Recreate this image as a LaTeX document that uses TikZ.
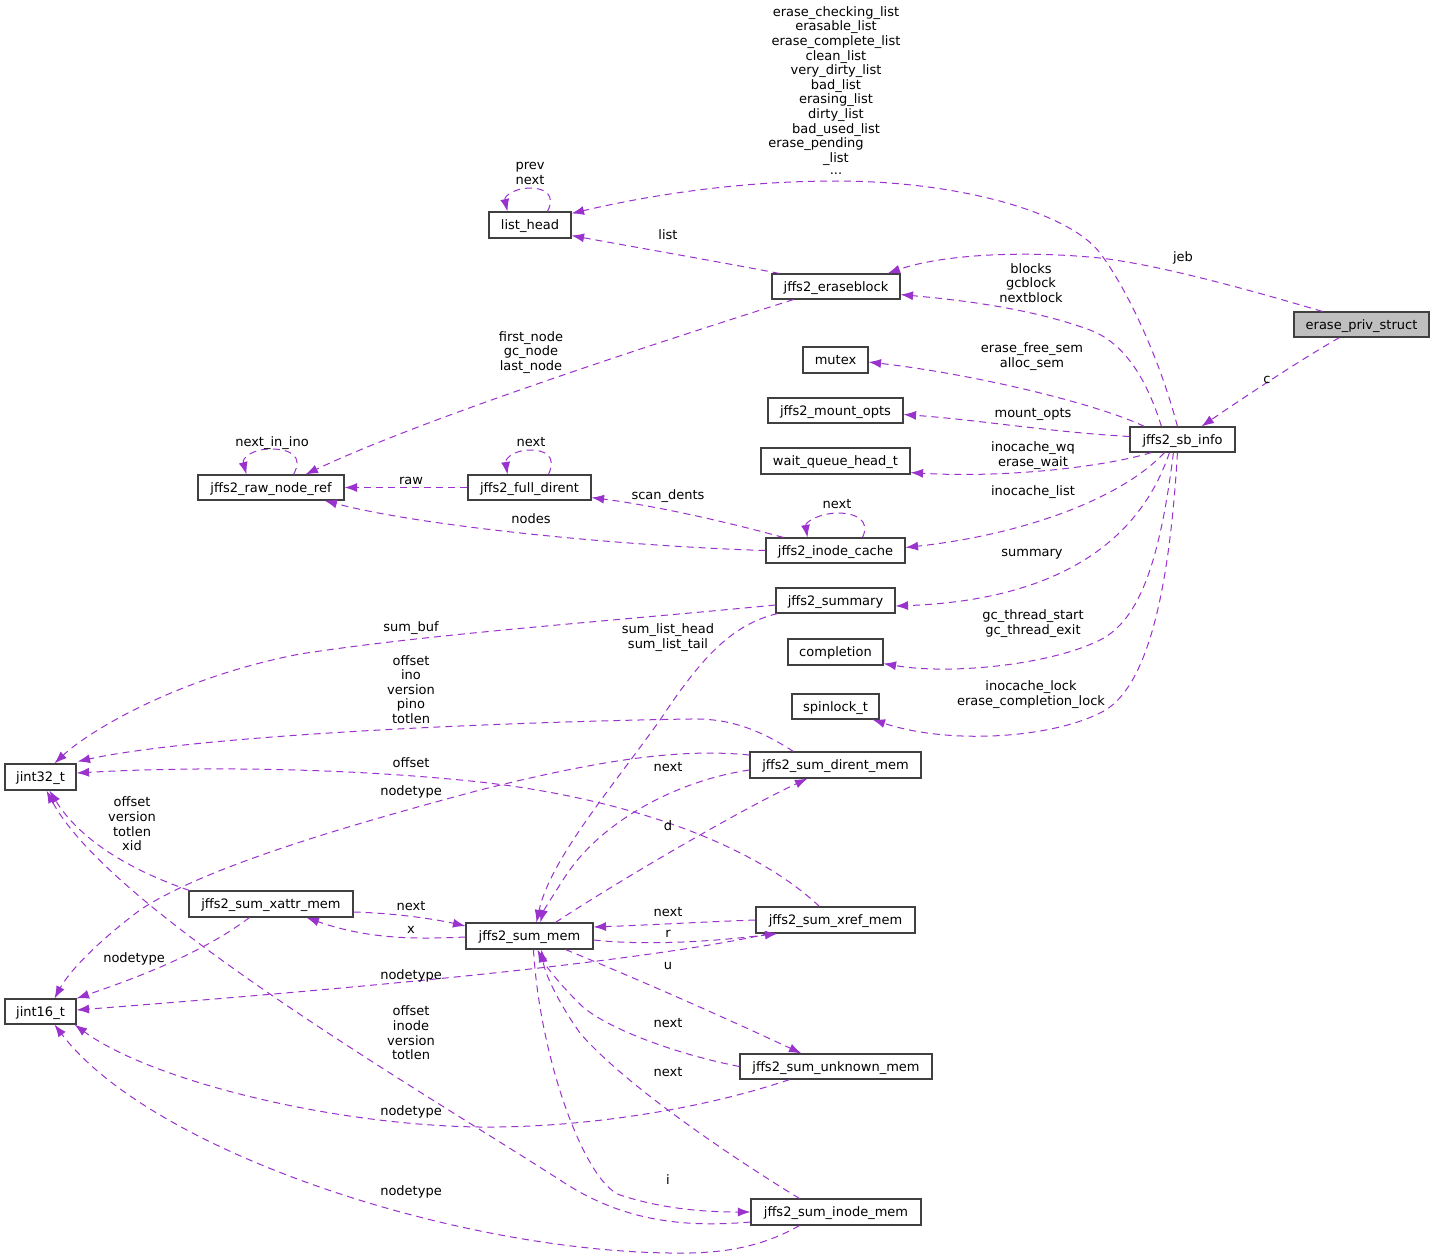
\documentclass[tikz,border=0pt]{standalone}
\usepackage{fontspec}
\setmainfont{DejaVu Sans}
\usetikzlibrary{arrows.meta,calc}
\definecolor{edgec}{HTML}{9A32CD}
\definecolor{boxc}{HTML}{404040}
\definecolor{rootfill}{HTML}{BFBFBF}
\newcommand\dfont{\fontsize{13bp}{14.6bp}\selectfont}
\newcommand\ml[1]{\begin{tabular}{@{}c@{}}#1\end{tabular}}
\newcommand\nd[7][]{\node[box,#1,minimum width={(#5-#3)*1bp},minimum height={(#6-#4)*1bp}] (#2) at ({(#3+#5)/2},{(#4+#6)/2}) {#7};}
\begin{document}
\begin{tikzpicture}[x=1bp,y=-1bp,
 box/.style={draw=boxc,line width=1.1bp,fill=white,inner sep=0pt,font=\dfont,text height=12.4bp,text depth=3bp},
 lbl/.style={font=\dfont,inner sep=0pt,text height=12.4bp,text depth=3bp},
 mlbl/.style={font=\dfont,inner sep=0pt},
 rel/.style={draw=edgec,line width=1bp,dash pattern=on 7bp off 5bp,-{Latex[length=12.5bp,width=9bp]}},
]
\useasboundingbox[fill=white] (0,0) rectangle (1435,1259);

% nodes
\nd[fill=rootfill]{eps}{1294}{312}{1429}{337}{erase\_priv\_struct}
\nd{sb}{1130}{427}{1235}{452}{jffs2\_sb\_info}
\nd{lh}{489}{212}{571}{238}{list\_head}
\nd{eb}{772}{274}{900}{299}{jffs2\_eraseblock}
\nd{mx}{803}{347}{868}{373}{mutex}
\nd{mo}{768}{398}{903}{423}{jffs2\_mount\_opts}
\nd{wq}{761}{448}{910}{474}{wait\_queue\_head\_t}
\nd{rnr}{198}{475}{344}{500}{jffs2\_raw\_node\_ref}
\nd{fd}{468}{475}{591}{500}{jffs2\_full\_dirent}
\nd{ic}{766}{538}{905}{563}{jffs2\_inode\_cache}
\nd{su}{776}{588}{895}{613}{jffs2\_summary}
\nd{co}{788}{639}{883}{665}{completion}
\nd{sl}{792}{694}{879}{719}{spinlock\_t}
\nd{jtt}{5}{764}{76}{790}{jint32\_t}
\nd{sdm}{750}{752}{921}{778}{jffs2\_sum\_dirent\_mem}
\nd{sxm}{189}{891}{353}{917}{jffs2\_sum\_xattr\_mem}
\nd{sm}{466}{923}{593}{949}{jffs2\_sum\_mem}
\nd{sxr}{756}{907}{915}{933}{jffs2\_sum\_xref\_mem}
\nd{jst}{5}{999}{76}{1024}{jint16\_t}
\nd{sum}{740}{1054}{932}{1079}{jffs2\_sum\_unknown\_mem}
\nd{sim}{751}{1199}{921}{1225}{jffs2\_sum\_inode\_mem}

% edges
\draw[rel] ($(sb.north west)+(48,0)$) .. controls (1160,360) and (1128,290) .. (1100,253) .. controls (1070,213) and (960,181) .. (836,181) .. controls (740,181) and (650,195) .. ($(lh.north east)+(0,2)$);
\draw[rel] ($(lh.north west)+(59,0)$) .. controls (556,195) and (545,188) .. (530,188) .. controls (515,188) and (504,196) .. ($(lh.north west)+(19,0)$);
\draw[rel] ($(eps.north west)+(29,0)$) .. controls (1250,290) and (1160,265) .. (1100,258) .. controls (1020,250) and (940,255) .. ($(eb.north east)+(-13,0)$);
\draw[rel] ($(sb.north west)+(32,0)$) .. controls (1150,390) and (1130,345) .. (1090,330) .. controls (1030,308) and (960,300) .. ($(eb.south east)+(0,-5)$);
\draw[rel] ($(eb.north west)+(8,0)$) .. controls (720,262) and (640,248) .. ($(lh.south east)+(0,-3)$);
\draw[rel] ($(eb.south west)+(22,0)$) .. controls (650,345) and (420,420) .. ($(rnr.north west)+(108,0)$);
\draw[rel] ($(rnr.north west)+(96,0)$) .. controls (304,456) and (290,449) .. (271,449) .. controls (252,449) and (242,458) .. ($(rnr.north west)+(49,0)$);
\draw[rel] (fd.west) -- (rnr.east);
\draw[rel] ($(fd.north west)+(81,0)$) .. controls (557,456) and (545,450) .. (530,450) .. controls (515,450) and (505,458) .. ($(fd.north west)+(40,0)$);
\draw[rel] ($(ic.north west)+(18,0)$) .. controls (720,520) and (650,505) .. ($(fd.south east)+(0,-3)$);
\draw[rel] (ic.west) .. controls (620,546) and (420,526) .. ($(rnr.south west)+(127,0)$);
\draw[rel] ($(ic.north west)+(97,0)$) .. controls (871,520) and (855,513) .. (838,513) .. controls (820,513) and (805,522) .. ($(ic.north west)+(42,0)$);
\draw[rel] ($(sb.north west)+(15,0)$) .. controls (1100,405) and (980,375) .. ($(mx.east)+(0,2)$);
\draw[rel] ($(sb.west)+(0,-3)$) .. controls (1050,432) and (980,420) .. ($(mo.east)+(0,4)$);
\draw[rel] ($(sb.south west)+(22,0)$) .. controls (1100,468) and (1000,478) .. ($(wq.south east)+(0,-2)$);
\draw[rel] ($(sb.south west)+(35,0)$) .. controls (1120,500) and (1020,535) .. ($(ic.east)+(0,-3)$);
\draw[rel] ($(sb.south west)+(40,0)$) .. controls (1140,540) and (1060,600) .. ($(su.east)+(0,5.5)$);
\draw[rel] ($(sb.south west)+(44,0)$) .. controls (1160,560) and (1140,620) .. (1100,640) .. controls (1050,665) and (950,675) .. ($(co.south east)+(0,-2)$);
\draw[rel] ($(sb.south west)+(48,0)$) .. controls (1170,580) and (1150,690) .. (1100,713) .. controls (1050,738) and (950,745) .. ($(sl.south east)+(-7,0)$);
\draw[rel] ($(eps.south west)+(46,0)$) .. controls (1300,360) and (1240,400) .. ($(sb.north west)+(72,0)$);
\draw[rel] ($(su.west)+(0,4.5)$) .. controls (600,622) and (430,634) .. (300,654) .. controls (180,677) and (90,730) .. ($(jtt.north west)+(50,0)$);
\draw[rel] ($(su.south west)+(2,0)$) .. controls (730,625) and (700,660) .. (660,720) .. controls (610,790) and (550,860) .. ($(sm.north west)+(71,0)$);
\draw[rel] ($(sdm.north west)+(44,0)$) .. controls (760,730) and (730,718) .. (690,719) .. controls (500,722) and (200,735) .. ($(jtt.north east)+(1,-2)$);
\draw[rel] ($(sdm.west)+(0,-10)$) .. controls (680,748) and (600,760) .. (480,790) .. controls (330,830) and (200,870) .. (140,910) .. controls (100,940) and (70,970) .. ($(jst.north west)+(50,0)$);
\draw[rel] ($(sdm.west)+(0,5)$) .. controls (680,780) and (600,820) .. (563,880) .. controls (550,900) and (543,912) .. ($(sm.north west)+(75,0)$);
\draw[rel] ($(sm.north west)+(90,0)$) .. controls (620,880) and (740,810) .. ($(sdm.south west)+(58,0)$);
\draw[rel] ($(sxr.north west)+(64,0)$) .. controls (760,850) and (640,800) .. (480,782) .. controls (350,768) and (200,766) .. ($(jtt.east)+(0,-4)$);
\draw[rel] (sxr.west) .. controls (700,922) and (650,925) .. ($(sm.east)+(0,-9)$);
\draw[rel] ($(sm.east)+(0,4)$) .. controls (640,945) and (700,943) .. ($(sxr.south west)+(22,0)$);
\draw[rel] ($(sxr.south west)+(14,0)$) .. controls (650,960) and (400,985) .. ($(jst.east)+(0,-1.5)$);
\draw[rel] ($(sxm.east)+(0,8)$) .. controls (390,913) and (430,918) .. ($(sm.west)+(0,-10)$);
\draw[rel] ($(sm.west)+(0,1)$) .. controls (420,939) and (370,940) .. ($(sxm.south west)+(118,0)$);
\draw[rel] ($(sxm.north west)+(1,0)$) .. controls (130,870) and (80,840) .. ($(jtt.south west)+(45,0)$);
\draw[rel] ($(sxm.south west)+(61,0)$) .. controls (200,955) and (130,980) .. (jst.north east);
\draw[rel] ($(sim.west)+(0,10)$) .. controls (680,1228) and (620,1220) .. (560,1180) .. controls (420,1090) and (110,910) .. ($(jtt.south west)+(42,0)$);
\draw[rel] ($(sm.south west)+(68,0)$) .. controls (540,1060) and (585,1182) .. (620,1195) .. controls (660,1208) and (700,1212) .. (sim.west);
\draw[rel] ($(sim.north west)+(49,0)$) .. controls (720,1150) and (620,1080) .. (580,1033) .. controls (560,1005) and (545,975) .. ($(sm.south west)+(76,0)$);
\draw[rel] (sum.west) .. controls (680,1055) and (610,1030) .. (583,1007) .. controls (560,985) and (545,965) .. ($(sm.south west)+(72,0)$);
\draw[rel] ($(sm.south east)+(-28,0)$) .. controls (640,980) and (730,1020) .. ($(sum.north west)+(62,0)$);
\draw[rel] ($(sum.south west)+(50,0)$) .. controls (700,1110) and (580,1128) .. (480,1127) .. controls (330,1125) and (150,1080) .. ($(jst.south east)+(-2,0)$);
\draw[rel] ($(sim.south west)+(49,0)$) .. controls (760,1248) and (720,1254) .. (670,1253) .. controls (450,1250) and (150,1150) .. ($(jst.south west)+(50,0)$);

% labels
\node[mlbl] (L1) at (836,71.7) {\ml{erase\_checking\_list\\erasable\_list\\erase\_complete\_list\\clean\_list\\very\_dirty\_list\\bad\_list\\erasing\_list\\dirty\_list\\bad\_used\_list}};
\node[lbl] (L1b) at (816,143) {erase\_pending};
\node[lbl] (L1c) at (836,158) {\_list};
\node[lbl] (L1d) at (836,170) {...};
\node[mlbl] (L2) at (530,173.8) {\ml{prev\\next}};
\node[lbl] (L3) at (1183,257) {jeb};
\node[mlbl] (L4) at (1031,284.8) {\ml{blocks\\gcblock\\nextblock}};
\node[lbl] (L5) at (668,235) {list};
\node[mlbl] (L6) at (531,352.8) {\ml{first\_node\\gc\_node\\last\_node}};
\node[lbl] (L7) at (272,442) {next\_in\_ino};
\node[lbl] (L8) at (411,480) {raw};
\node[lbl] (L9) at (531,442) {next};
\node[lbl] (L10) at (668,495) {scan\_dents};
\node[lbl] (L11) at (531,519) {nodes};
\node[lbl] (L12) at (837,504) {next};
\node[mlbl] (L13) at (1032,357.3) {\ml{erase\_free\_sem\\alloc\_sem}};
\node[lbl] (L14) at (1033,413) {mount\_opts};
\node[mlbl] (L15) at (1033,455.8) {\ml{inocache\_wq\\erase\_wait}};
\node[lbl] (L16) at (1033,491) {inocache\_list};
\node[lbl] (L17) at (1032,552) {summary};
\node[mlbl] (L18) at (1033,624.3) {\ml{gc\_thread\_start\\gc\_thread\_exit}};
\node[mlbl] (L19) at (1031,695.3) {\ml{inocache\_lock\\erase\_completion\_lock}};
\node[lbl] (L20) at (1267,379) {c};
\node[lbl] (L21) at (411,627) {sum\_buf};
\node[mlbl] (L22) at (668,638.3) {\ml{sum\_list\_head\\sum\_list\_tail}};
\node[mlbl] (L23) at (411,691.3) {\ml{offset\\ino\\version\\pino\\totlen}};
\node[lbl] (L24) at (411,763) {offset};
\node[lbl] (L25) at (411,791) {nodetype};
\node[lbl] (L26) at (668,767) {next};
\node[lbl] (L27) at (668,826) {d};
\node[mlbl] (L28) at (132,825.8) {\ml{offset\\version\\totlen\\xid}};
\node[lbl] (L29) at (411,906) {next};
\node[lbl] (L30) at (411,929) {x};
\node[lbl] (L31) at (668,912) {next};
\node[lbl] (L32) at (668,933) {r};
\node[lbl] (L33) at (134,958) {nodetype};
\node[lbl] (L34) at (411,975) {nodetype};
\node[lbl] (L35) at (668,965) {u};
\node[mlbl] (L36) at (411,1034.8) {\ml{offset\\inode\\version\\totlen}};
\node[lbl] (L37) at (668,1023) {next};
\node[lbl] (L38) at (668,1072) {next};
\node[lbl] (L39) at (411,1111) {nodetype};
\node[lbl] (L40) at (668,1180) {i};
\node[lbl] (L41) at (411,1191) {nodetype};
\end{tikzpicture}
\end{document}
